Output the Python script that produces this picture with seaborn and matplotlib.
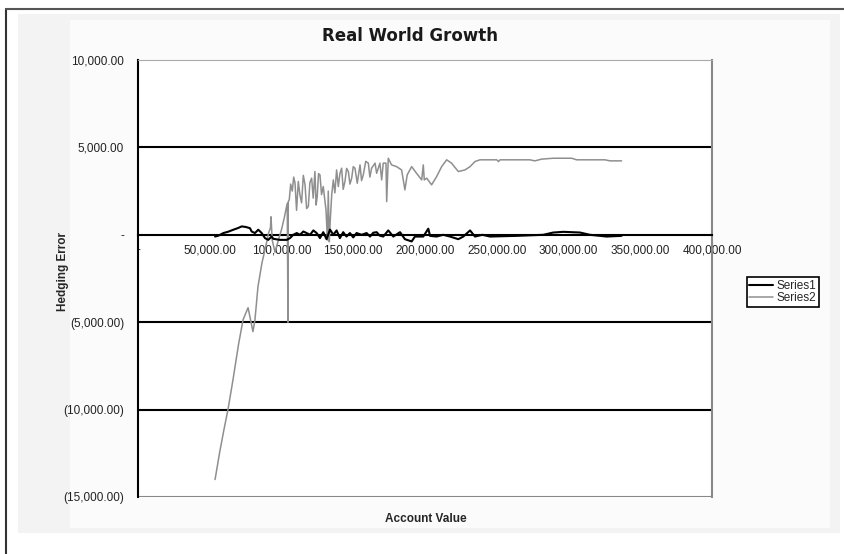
import matplotlib
matplotlib.use("Agg")
import matplotlib.pyplot as plt
import seaborn as sns
import pandas as pd
from matplotlib.patches import Rectangle
from matplotlib.lines import Line2D
from matplotlib.ticker import FuncFormatter

# Datos
s1_x = [53700, 56000, 59500, 63000, 66400, 69500, 72300, 75000, 78000, 79200, 81500,
        83800, 86200, 88500, 90800, 93100, 94300, 99000, 103600, 105900, 108200, 110600,
        112900, 115200, 117500, 119900, 122200, 124500, 126800, 129100, 131400, 133800,
        136100, 138400, 140700, 143000, 145300, 147700, 150000, 152300, 155800, 159300,
        161700, 164000, 166300, 168500, 170900, 174400, 177900, 182600, 186000, 190700,
        193000, 198800, 202300, 203500, 208100, 212700, 217400, 223200, 226700, 231400,
        234800, 240000, 245300, 263900, 282400, 289400, 296400, 308000, 314900, 326600,
        337000]
s1_y = [-100, -50, 100, 180, 290, 380, 480, 450, 380, 190, 100, 290, 100, -190, -290,
        -100, -230, -290, -290, -190, 0, 100, 0, 190, 100, 0, 250, 100, -190, 150, -250,
        300, 0, 250, -190, 150, -100, 100, -150, 100, 0, 100, -100, 120, 150, -50, -100,
        250, -100, 150, -250, -380, -100, -100, 350, -60, -100, 0, -100, -250, -100, 250,
        -100, 0, -100, -60, 0, 130, 170, 130, 0, -100, -60]

s2_x = [53700, 57000, 60000, 62700, 66200, 70000, 73200, 76700, 78000, 80100, 81500,
        83600, 86400, 88500, 91000, 92300, 92700, 93500, 95500, 97500, 100000, 102000,
        104000, 104500, 104700, 105400, 106400, 107500, 108500, 109400, 110500, 111700,
        112800, 114000, 115200, 116400, 117500, 118700, 119800, 121000, 122100, 123300,
        124100, 124900, 125800, 126800, 127900, 129100, 131000, 132000, 132600, 133300,
        134000, 135000, 136100, 137200, 138400, 139600, 140700, 141900, 143000, 144200,
        145400, 146600, 147700, 148900, 150000, 151200, 152800, 154700, 155800, 157000,
        158700, 160500, 161600, 162800, 165200, 166300, 168600, 169800, 170900, 172800,
        173300, 174400, 176700, 180200, 183700, 186000, 187600, 190700, 194100, 197700,
        198800, 199500, 201200, 204600, 208100, 211600, 215100, 218500, 223200, 227800,
        231400, 234800, 238300, 250000, 251200, 252300, 273000, 276600, 281300, 289400,
        302200, 305700, 325400, 328900, 337000]
s2_y = [-14000, -12400, -11100, -10000, -8290, -6300, -4860, -4170, -4690, -5540, -4860,
        -2970, -1600, -860, 100, 400, 1030, -300, -1000, -400, 300, 1000, 1800, -5000,
        1900, 2000, 2900, 2500, 3300, 2970, 1400, 3050, 2300, 1830, 3400, 2860, 1500,
        1620, 3000, 3240, 2100, 3620, 1700, 2190, 3500, 3430, 2300, 2760, 1430, -300,
        2500, -400, 860, 2290, 3140, 2400, 3710, 2760, 3500, 3810, 2600, 3050, 3800, 3620,
        2900, 3240, 3900, 3810, 2950, 4000, 3100, 3430, 4200, 4100, 3300, 3810, 4100, 3520,
        4100, 3140, 4100, 4100, 1900, 4380, 4000, 3900, 3710, 2570, 3430, 3900, 3520,
        3140, 4000, 3140, 3240, 2860, 3330, 3900, 4290, 4100, 3620, 3710, 3900, 4190,
        4290, 4290, 4190, 4290, 4290, 4230, 4330, 4380, 4380, 4290, 4290, 4230, 4230]

x_ticks = [0, 50000, 100000, 150000, 200000, 250000, 300000, 350000, 400000]
y_ticks = [-15000, -10000, -5000, 0, 5000, 10000]
grid_levels = [5000, -5000, -10000]


def contable(v, pos=None):
    # formato contable de Excel
    if abs(v) < 1e-9:
        return "-"
    if v < 0:
        return "({:,.2f})".format(-v)
    return "{:,.2f}".format(v)


sns.set_style("white")
plt.rcParams['font.family'] = ['Liberation Sans', 'DejaVu Sans']

fig = plt.figure(figsize=(8.44, 5.54), dpi=100)
W, H = 844, 554

# fondo gris claro del área del gráfico y marco del libro
fig.add_artist(Rectangle((18 / W, 1 - 533 / H), 822 / W, 519 / H,
                         transform=fig.transFigure, facecolor='#f3f3f3',
                         edgecolor='none', zorder=-2))
fig.add_artist(Rectangle((70 / W, 1 - 528 / H), 760 / W, 508 / H,
                         transform=fig.transFigure, facecolor='#fbfbfb',
                         edgecolor='none', zorder=-1))
fig.add_artist(Line2D([6 / W, 6 / W], [0, 1 - 9 / H], transform=fig.transFigure,
                      color='#333333', lw=1.5))
fig.add_artist(Line2D([6 / W, 1], [1 - 9 / H, 1 - 9 / H], transform=fig.transFigure,
                      color='#555555', lw=1.5))

ax = fig.add_axes([138 / W, 57 / H, 574 / W, 437 / H])
ax.set_facecolor('white')

df1 = pd.DataFrame({'x': s1_x, 'y': s1_y})
df2 = pd.DataFrame({'x': s2_x, 'y': s2_y})
sns.lineplot(data=df2, x='x', y='y', ax=ax, color='#8f8f8f', lw=1.1,
             sort=False, estimator=None, zorder=3)
sns.lineplot(data=df1, x='x', y='y', ax=ax, color='black', lw=1.5,
             sort=False, estimator=None, zorder=4)

ax.set_xlim(0, 400000)
ax.set_ylim(-15000, 10000)
ax.set_xticks(x_ticks)
ax.set_yticks(y_ticks)
ax.xaxis.set_major_formatter(FuncFormatter(contable))
ax.yaxis.set_major_formatter(FuncFormatter(contable))

for g in grid_levels:
    ax.axhline(g, color='black', lw=1.5, zorder=1)
ax.axhline(ax.get_ylim()[0], color='#888888', lw=1.5, zorder=1)

ax.spines['bottom'].set_position(('data', 0))
ax.spines['bottom'].set_color('black')
ax.spines['bottom'].set_linewidth(1.5)
ax.spines['left'].set_color('black')
ax.spines['left'].set_linewidth(1.5)
ax.spines['top'].set_color('#aaaaaa')
ax.spines['right'].set_color('#888888')
ax.spines['right'].set_linewidth(1.5)

ax.tick_params(axis='both', direction='out', length=4, width=1, color='black',
               labelsize=8.5, labelcolor='#222222')
ax.tick_params(axis='x', pad=3)
ax.tick_params(axis='y', pad=6)

ax.text(0.474, 1.055, 'Real World Growth', transform=ax.transAxes, ha='center',
        va='center', fontweight='bold', fontsize=12, family=['DejaVu Sans'],
        color='#1a1a1a')
ax.set_xlabel('Account Value', fontweight='bold', fontsize=8.5)
ax.set_ylabel('Hedging Error', fontweight='bold', fontsize=8.5)
ax.xaxis.set_label_coords(0.502, -0.037)
ax.yaxis.set_label_coords(-0.121, 0.515)

handles = [Line2D([], [], color='black', lw=1.5), Line2D([], [], color='#8f8f8f', lw=1.1)]
leg = ax.legend(handles, ['Series1', 'Series2'], loc='center left',
                bbox_to_anchor=(747 / W, 1 - 292 / H), bbox_transform=fig.transFigure,
                fontsize=8.5, frameon=True, fancybox=False, framealpha=1,
                edgecolor='black', borderpad=0.2, labelspacing=0.05,
                handlelength=2.0, handletextpad=0.3, borderaxespad=0)
leg.get_frame().set_linewidth(1.2)

fig.savefig('out.png', dpi=100)
